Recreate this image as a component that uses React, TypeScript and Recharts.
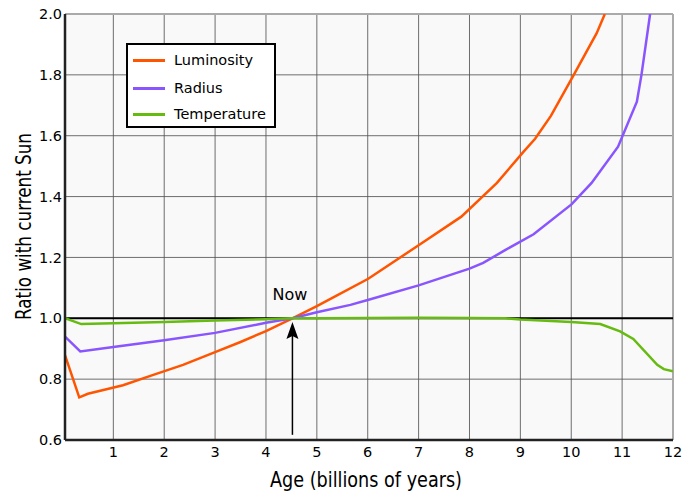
import React from 'react';
import { LineChart, Line, XAxis, YAxis, CartesianGrid, ReferenceLine, ReferenceDot, Legend } from 'recharts';

const xTicks = [1, 2, 3, 4, 5, 6, 7, 8, 9, 10, 11, 12];
const yTicks = [0.6, 0.8, 1.0, 1.2, 1.4, 1.6, 1.8, 2.0];

const luminosity = [
  { age: 0.05, v: 0.879 }, { age: 0.33, v: 0.74 }, { age: 0.5, v: 0.752 }, { age: 1.19, v: 0.78 },
  { age: 1.8, v: 0.815 }, { age: 2.37, v: 0.847 }, { age: 3, v: 0.889 }, { age: 3.5, v: 0.922 },
  { age: 4, v: 0.958 }, { age: 4.52, v: 1.0 }, { age: 5, v: 1.04 }, { age: 5.36, v: 1.072 },
  { age: 6.01, v: 1.13 }, { age: 7, v: 1.24 }, { age: 7.84, v: 1.334 }, { age: 8.54, v: 1.445 },
  { age: 9.06, v: 1.547 }, { age: 9.29, v: 1.59 }, { age: 9.6, v: 1.665 }, { age: 10.05, v: 1.8 },
  { age: 10.5, v: 1.937 }, { age: 10.66, v: 2.0 },
];

const radius = [
  { age: 0.05, v: 0.94 }, { age: 0.35, v: 0.891 }, { age: 1, v: 0.906 }, { age: 2, v: 0.928 },
  { age: 3, v: 0.952 }, { age: 4, v: 0.985 }, { age: 4.52, v: 1.0 }, { age: 5, v: 1.02 },
  { age: 5.66, v: 1.044 }, { age: 6, v: 1.06 }, { age: 7, v: 1.108 }, { age: 8, v: 1.163 },
  { age: 8.27, v: 1.182 }, { age: 8.7, v: 1.224 }, { age: 9.26, v: 1.276 }, { age: 10.01, v: 1.375 },
  { age: 10.4, v: 1.445 }, { age: 10.92, v: 1.564 }, { age: 11.29, v: 1.712 }, { age: 11.38, v: 1.8 },
  { age: 11.55, v: 2.0 },
];

const temperature = [
  { age: 0.05, v: 1.0 }, { age: 0.37, v: 0.981 }, { age: 1, v: 0.984 }, { age: 2, v: 0.988 },
  { age: 3, v: 0.993 }, { age: 4, v: 0.997 }, { age: 4.52, v: 1.0 }, { age: 5, v: 1.0 },
  { age: 6, v: 1.001 }, { age: 7, v: 1.002 }, { age: 8, v: 1.001 }, { age: 8.7, v: 1.0 },
  { age: 9, v: 0.996 }, { age: 10, v: 0.988 }, { age: 10.57, v: 0.981 }, { age: 10.96, v: 0.957 },
  { age: 11.22, v: 0.932 }, { age: 11.69, v: 0.847 }, { age: 11.82, v: 0.833 }, { age: 12, v: 0.826 },
];

const seriesNames = ['Luminosity', 'Radius', 'Temperature'];
const colors = ['#ff5500', '#8855ff', '#66bb11'];

const FONT = '"DejaVu Sans", sans-serif';

const LegendBox = () => (
  <div style={{
    position: 'relative', width: 150, height: 85, boxSizing: 'border-box',
    border: '2px solid #000', background: '#fff', fontFamily: FONT, fontSize: 14.5, color: '#000',
  }}>
    {seriesNames.map((n, i) => (
      <div key={n} style={{ position: 'absolute', left: 0, top: [17, 45, 71][i] - 2 - 10, height: 20, width: 146 }}>
        <div style={{ position: 'absolute', left: 5, top: 9, width: 32, height: 2.5, background: colors[i] }} />
        <div style={{ position: 'absolute', left: 46, top: 0, lineHeight: '20px', whiteSpace: 'nowrap' }}>{n}</div>
      </div>
    ))}
  </div>
);

const ArrowHead = (props: any) => {
  const { cx, cy } = props;
  return <polygon points={`${cx},${cy} ${cx - 6},${cy + 17} ${cx},${cy + 14} ${cx + 6},${cy + 17}`} fill="#000" />;
};

const NowText = (props: any) => {
  const { cx, cy } = props;
  return <text x={cx} y={cy} textAnchor="middle" fontFamily={FONT} fontSize={16} fill="#000">Now</text>;
};

export default function App() {
  return (
    <div style={{ position: 'absolute', left: 0, top: 0, width: 685, height: 493, background: '#fff' }}>
      <LineChart width={685} height={493} margin={{ top: 14, right: 12, left: 0, bottom: 0 }}>
        <CartesianGrid fill="#f9f9f9" stroke="#555" strokeOpacity={0.85} strokeWidth={1} />
        <XAxis
          type="number" dataKey="age" domain={[0.05, 12]} ticks={xTicks} allowDataOverflow
          height={53} tickSize={0} tickMargin={7} interval={0}
          tick={{ fontFamily: FONT, fontSize: 14.5, fill: '#000' }}
          axisLine={{ stroke: '#222', strokeWidth: 2.5 }}
          label={(p: any) => (
            <text x={366} y={487} textAnchor="middle" fontFamily={FONT} fontSize={22} textLength={192} lengthAdjust="spacingAndGlyphs" fill="#000">
              Age (billions of years)
            </text>
          )}
        />
        <YAxis
          type="number" dataKey="v" domain={[0.6, 2.0]} ticks={yTicks} allowDataOverflow
          width={65} tickSize={0} tickMargin={3} interval={0}
          tickFormatter={(v: number) => v.toFixed(1)}
          tick={{ fontFamily: FONT, fontSize: 14.5, fill: '#000' }}
          axisLine={{ stroke: '#222', strokeWidth: 2.5 }}
          label={(p: any) => (
            <text x={31} y={226.5} transform="rotate(-90 31 226.5)" textAnchor="middle" fontFamily={FONT} fontSize={22} textLength={187} lengthAdjust="spacingAndGlyphs" fill="#000">
              Ratio with current Sun
            </text>
          )}
        />
        <ReferenceLine y={2.0} stroke="#aaa" strokeWidth={2} />
        <ReferenceLine x={12} stroke="#aaa" strokeWidth={2} />
        <ReferenceLine y={1.0} stroke="#000" strokeWidth={2} />
        <Line data={luminosity} dataKey="v" name={seriesNames[0]} stroke={colors[0]} strokeWidth={2.5} dot={false} isAnimationActive={false} />
        <Line data={radius} dataKey="v" name={seriesNames[1]} stroke={colors[1]} strokeWidth={2.5} dot={false} isAnimationActive={false} />
        <Line data={temperature} dataKey="v" name={seriesNames[2]} stroke={colors[2]} strokeWidth={2.5} dot={false} isAnimationActive={false} />
        <ReferenceLine segment={[{ x: 4.52, y: 0.617 }, { x: 4.52, y: 0.95 }]} stroke="#000" strokeWidth={1.5} />
        <ReferenceDot x={4.52} y={0.988} r={0} shape={ArrowHead} />
        <ReferenceDot x={4.47} y={1.059} r={0} shape={NowText} />
        <Legend
          layout="vertical" align="center" verticalAlign="middle"
          wrapperStyle={{ position: 'absolute', left: 126, top: 43, width: 150, height: 85 }}
          content={() => <LegendBox />}
        />
      </LineChart>
    </div>
  );
}
